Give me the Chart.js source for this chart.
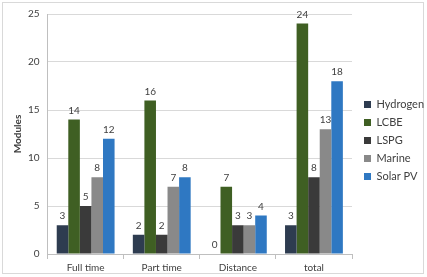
<!DOCTYPE html>
<html>
<head>
<meta charset="utf-8">
<script src="https://cdn.jsdelivr.net/npm/chart.js@4"></script>
<style>
  body { margin: 0; background: #fff; }
  #frame { position: absolute; left: 2px; top: 2px; width: 420px; height: 270px; border: 1px solid #d9d9d9; }
  #wrap { position: absolute; left: 0; top: 0; width: 427px; height: 277px; }
</style>
</head>
<body>
<div id="frame"></div>
<div id="wrap"><canvas id="chart" width="427" height="277"></canvas></div>
<script>
const categories = ["Full time", "Part time", "Distance", "total"];
const hydrogen = [3, 2, 0, 3];
const lcbe = [14, 16, 7, 24];
const lspg = [5, 2, 3, 8];
const marine = [8, 7, 3, 13];
const solarPV = [12, 8, 4, 18];
const yTicks = [0, 5, 10, 15, 20, 25];

const FONT = "Lato, 'Open Sans', sans-serif";

/* value labels on top of bars */
const barValues = {
  id: "barValues",
  afterDatasetsDraw(chart) {
    const ctx = chart.ctx;
    ctx.save();
    ctx.font = "10px " + FONT;
    ctx.fillStyle = "#404040";
    ctx.textAlign = "center";
    ctx.textBaseline = "bottom";
    chart.data.datasets.forEach((ds, i) => {
      chart.getDatasetMeta(i).data.forEach((bar, j) => {
        ctx.fillText(ds.data[j], bar.x, bar.y - 4);
      });
    });
    ctx.restore();
  }
};

/* fixed legend width so the plot ends where it should, then nudge it */
const legendWidth = {
  id: "legendWidth",
  beforeUpdate(chart) {
    const lg = chart.legend;
    if (lg && !lg._patched) {
      const fit = lg.fit;
      lg.fit = function () { fit.call(this); this.width = 71; };
      lg._patched = true;
    }
  },
  afterLayout(chart) {
    const lg = chart.legend;
    lg.left += 5;
    lg.right += 5;
    lg.top -= 4;
    lg.bottom -= 4;
  }
};

new Chart(document.getElementById("chart"), {
  type: "bar",
  data: {
    labels: categories,
    datasets: [
      { label: "Hydrogen", data: hydrogen, backgroundColor: "#2e3c50" },
      { label: "LCBE", data: lcbe, backgroundColor: "#3f5f23" },
      { label: "LSPG", data: lspg, backgroundColor: "#3a3a3a" },
      { label: "Marine", data: marine, backgroundColor: "#898989" },
      { label: "Solar PV", data: solarPV, backgroundColor: "#2f78c2" }
    ]
  },
  options: {
    responsive: false,
    animation: false,
    layout: { padding: { left: 4, right: 4, top: 12, bottom: 0 } },
    datasets: { bar: { barPercentage: 1, categoryPercentage: 0.76 } },
    plugins: {
      legend: {
        position: "right",
        align: "center",
        labels: {
          font: { family: FONT, size: 11 },
          color: "#404040",
          boxWidth: 7,
          boxHeight: 7,
          padding: 7
        }
      },
      tooltip: { enabled: false }
    },
    scales: {
      x: {
        grid: { display: true, drawOnChartArea: false, tickLength: 5, color: "#bfbfbf" },
        border: { color: "#bfbfbf" },
        ticks: { font: { family: FONT, size: 10 }, color: "#404040", padding: 3 }
      },
      y: {
        min: 0,
        max: 25,
        afterBuildTicks(axis) { axis.ticks = yTicks.map(v => ({ value: v })); },
        grid: { color: "#d9d9d9", drawTicks: false },
        border: { color: "#bfbfbf" },
        ticks: { font: { family: FONT, size: 10 }, color: "#404040", padding: 8 },
        title: { display: true, text: "Modules", font: { family: FONT, size: 10, weight: "bold" }, color: "#404040", padding: { top: 8, bottom: -4 } }
      }
    }
  },
  plugins: [barValues, legendWidth]
});
</script>
</body>
</html>
